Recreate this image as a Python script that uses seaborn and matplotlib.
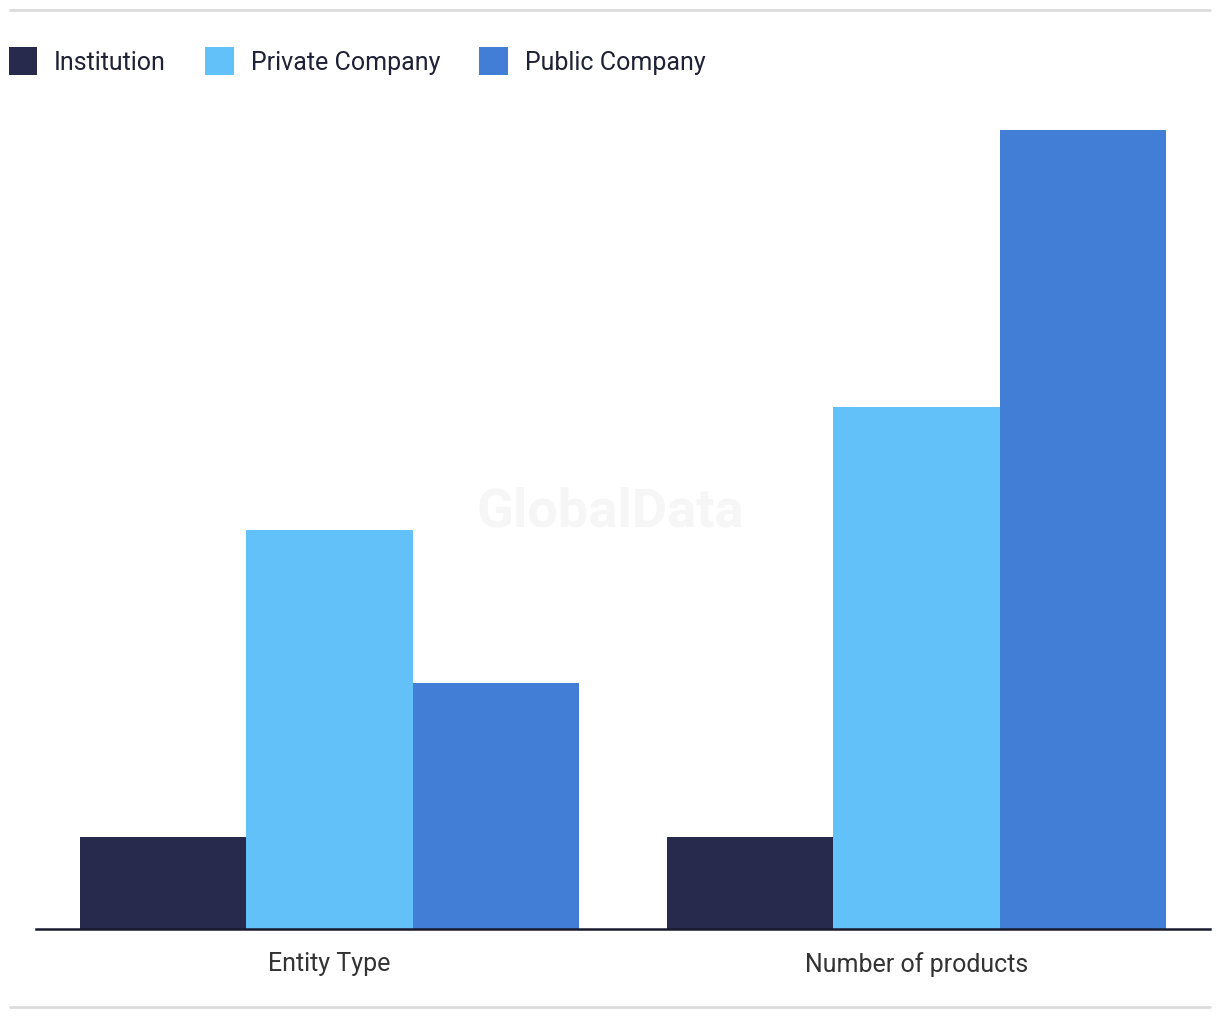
import numpy as np
import seaborn as sns
import matplotlib.pyplot as plt
import pandas as pd
from matplotlib.lines import Line2D
from matplotlib.patches import Patch

sns.set_style('white')
plt.rcParams['font.family'] = ['Roboto', 'DejaVu Sans']

categories = ['Entity Type', 'Number of products']
groups = ['Institution', 'Private Company', 'Public Company']
institution = [3, 3]
private_company = [13, 17]
public_company = [8, 26]

colors = ['#272A4C', '#62C1F9', '#427ED5']

df = pd.DataFrame({
    'category': categories * 3,
    'group': [groups[0]] * 2 + [groups[1]] * 2 + [groups[2]] * 2,
    'value': institution + private_company + public_company,
})

fig = plt.figure(figsize=(12.2, 10.2), dpi=100)
ax = fig.add_axes([36 / 1220, 90 / 1020, 1174 / 1220, 845 / 1020])

sns.barplot(data=df, x='category', y='value', hue='group', palette=colors,
            width=0.85, saturation=1, linewidth=0, ax=ax, legend=False)

ax.set_xlim(-0.5, 1.5)
ax.set_ylim(0, 27.5)
ax.set_xlabel('')
ax.set_ylabel('')
ax.set_yticks([])
for side in ['top', 'left', 'right']:
    ax.spines[side].set_visible(False)
ax.spines['bottom'].set_color('#1a1a2e')
ax.spines['bottom'].set_linewidth(1.8)
ax.tick_params(axis='x', length=0, pad=16, labelsize=18, labelcolor='#333333')

# watermark
fig.text(0.5, 1 - 512 / 1020, 'GlobalData', ha='center', va='center',
         fontsize=39, fontweight='bold', color='#f6f6f6', zorder=0)

# legend
handles = [Patch(facecolor=c, edgecolor='none') for c in colors]
fig.legend(handles, groups, loc='center left', bbox_to_anchor=(-14 / 1220, 1 - 62 / 1020),
           ncol=3, frameon=False, fontsize=18, handlelength=1.15, handleheight=1.35,
           handletextpad=0.68, columnspacing=1.55, labelcolor='#1f2236')

# top / bottom rules
fig.add_artist(Line2D([10 / 1220, 1210 / 1220], [1 - 11 / 1020] * 2,
                      transform=fig.transFigure, color='#dcdcdc', lw=2))
fig.add_artist(Line2D([10 / 1220, 1210 / 1220], [1 - 1008 / 1020] * 2,
                      transform=fig.transFigure, color='#dcdcdc', lw=2))

fig.savefig('out.png', dpi=100)
